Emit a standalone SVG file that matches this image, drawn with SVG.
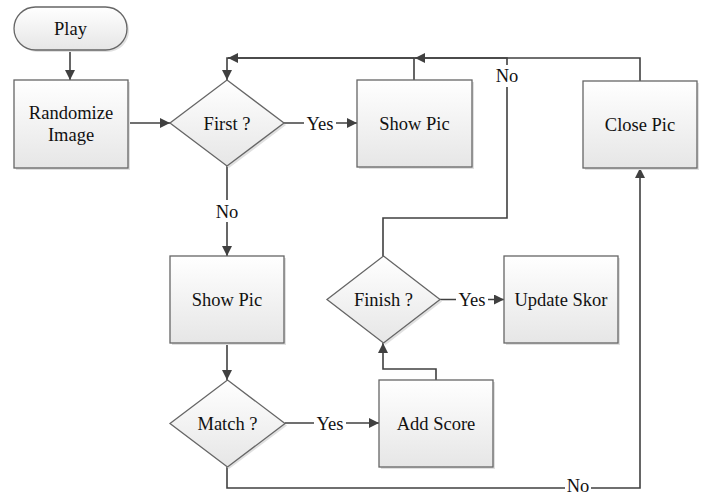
<svg xmlns="http://www.w3.org/2000/svg" width="705" height="495" viewBox="0 0 705 495">
<defs>
<linearGradient id="g" x1="0" y1="0" x2="0" y2="1">
<stop offset="0" stop-color="#ffffff"/>
<stop offset="1" stop-color="#e6e6e6"/>
</linearGradient>
<marker id="ah" viewBox="0 0 10 10" refX="10" refY="5" markerWidth="10" markerHeight="10" markerUnits="userSpaceOnUse" orient="auto">
<path d="M0,0 L10,5 L0,10 z" fill="#404040"/>
</marker>
<style>
.n{fill:url(#g);stroke:#666;stroke-width:1.3}
.s{fill:#e0e0e0;stroke:none}
.t{font-family:"Liberation Serif","Times New Roman",serif;font-size:18.5px;fill:#111;text-anchor:middle}
.c{fill:none;stroke:#404040;stroke-width:1.6}
.a{marker-end:url(#ah)}
.bg{fill:#fff}
</style>
</defs>
<rect width="705" height="495" fill="#fff"/>
<g id="connectors">
<path class="c a" d="M70 50 V80"/>
<path class="c a" d="M128 123 H170"/>
<path class="c a" d="M284 123 H357"/>
<path class="c a" d="M227 166 V256"/>
<path class="c a" d="M414 80 V58 H227 V80"/>
<path class="c a" d="M640 81 V58 H415"/>
<path class="c a" d="M383 256 V218 H507 V58 H228"/>
<path class="c a" d="M227 343 V380"/>
<path class="c a" d="M285 423 H379"/>
<path class="c a" d="M436 380 V369 H383 V343"/>
<path class="c a" d="M440 299.5 H504"/>
<path class="c a" d="M227 467 V488 H640 V168"/>
<rect class="bg" x="304" y="112" width="32" height="22"/>
<text class="t" x="320" y="129.5">Yes</text>
<rect class="bg" x="212" y="200" width="30" height="22"/>
<text class="t" x="227" y="217.5">No</text>
<rect class="bg" x="493" y="65" width="28" height="22"/>
<text class="t" x="507" y="82">No</text>
<rect class="bg" x="314" y="412" width="32" height="22"/>
<text class="t" x="330" y="429.5">Yes</text>
<rect class="bg" x="456" y="288" width="32" height="22"/>
<text class="t" x="472" y="306">Yes</text>
<rect class="bg" x="565" y="479" width="26" height="16"/>
<text class="t" x="578" y="492" font-size="17">No</text>
</g>
<g id="play">
<rect class="s" x="16" y="9" width="113" height="43" rx="21.5"/>
<rect class="n" x="14" y="7" width="113" height="43" rx="21.5"/>
<text class="t" x="70.5" y="35">Play</text>
</g>
<g id="randomize">
<rect class="s" x="16" y="82" width="114" height="88"/>
<rect class="n" x="14" y="80" width="114" height="88"/>
<text class="t" x="71" y="119">Randomize</text>
<text class="t" x="71" y="141">Image</text>
</g>
<g id="first">
<polygon class="s" points="229,82 286,125 229,168 172,125"/>
<polygon class="n" points="227,80 284,123 227,166 170,123"/>
<text class="t" x="227" y="129.5">First ?</text>
</g>
<g id="showpic1">
<rect class="s" x="359" y="82" width="115" height="87"/>
<rect class="n" x="357" y="80" width="115" height="87"/>
<text class="t" x="414.5" y="129.5">Show Pic</text>
</g>
<g id="closepic">
<rect class="s" x="585" y="83" width="114" height="87"/>
<rect class="n" x="583" y="81" width="114" height="87"/>
<text class="t" x="640" y="130.5">Close Pic</text>
</g>
<g id="showpic2">
<rect class="s" x="172" y="258" width="114" height="87"/>
<rect class="n" x="170" y="256" width="114" height="87"/>
<text class="t" x="227" y="306">Show Pic</text>
</g>
<g id="finish">
<polygon class="s" points="385.5,258 442,301.5 385.5,345 329,301.5"/>
<polygon class="n" points="383.5,256 440,299.5 383.5,343 327,299.5"/>
<text class="t" x="383.5" y="306">Finish ?</text>
</g>
<g id="updateskor">
<rect class="s" x="506" y="258" width="114" height="87"/>
<rect class="n" x="504" y="256" width="114" height="87"/>
<text class="t" x="561" y="306">Update Skor</text>
</g>
<g id="match">
<polygon class="s" points="229,382 287,425.5 229,469 172,425.5"/>
<polygon class="n" points="227.5,380 285,423.5 227.5,467 170,423.5"/>
<text class="t" x="227.5" y="430">Match ?</text>
</g>
<g id="addscore">
<rect class="s" x="381" y="382" width="114" height="87"/>
<rect class="n" x="379" y="380" width="114" height="87"/>
<text class="t" x="436" y="430">Add Score</text>
</g>
</svg>
